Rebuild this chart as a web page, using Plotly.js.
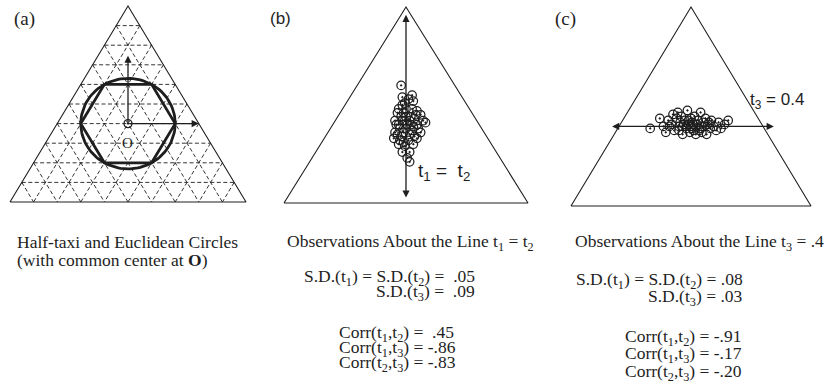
<!DOCTYPE html>
<html>
<head>
<meta charset="utf-8">
<script src="https://cdn.plot.ly/plotly-3.0.1.min.js"></script>
<style>
  html, body { margin: 0; padding: 0; background: #fff; }
  #chart { width: 834px; height: 384px; }
</style>
</head>
<body>
<div id="chart"></div>
<script>
// ---- data (barycentric coordinates t1, t2, t3; t3 is the top vertex) ----
const gridDivisions = 10;                 // dashed lattice in panel (a)
const centerO = [0.3, 0.3, 0.4];          // common center O (t1, t2, t3)
const circleRadius = 0.2;                 // half-taxi / Euclidean radius (side units)
const arrowLenA = 0.3;                    // axis arrows drawn from O in panel (a)

// panel (b): observations scattered about the line t1 = t2
const obsB_diff = [-0.04, -0.03, 0.05, 0.06, -0.01, -0.06, 0.05, 0.09, -0.07, -0.02,
                   0.12, -0.09, -0.03, 0.03, 0.14, -0.06, 0.01, 0.09, -0.09, -0.02,
                   0.05, 0.12, -0.10, -0.05, 0.02, 0.09, -0.06, -0.01, 0.06, -0.03,
                   0.03, 0.01, 0.03, 0.00, -0.04, 0.04, 0.07, -0.05, 0.00, 0.06,
                   -0.03, 0.03, 0.07, -0.08, 0.00, 0.02, -0.03, 0.10, -0.01, 0.04,
                   -0.07, 0.16, -0.02, 0.08];
const obsB_t3   = [0.60, 0.54, 0.55, 0.52, 0.51, 0.48, 0.48, 0.47, 0.46, 0.46,
                   0.45, 0.42, 0.42, 0.42, 0.42, 0.40, 0.40, 0.40, 0.36, 0.36,
                   0.37, 0.36, 0.33, 0.32, 0.32, 0.33, 0.30, 0.29, 0.30, 0.26,
                   0.26, 0.23, 0.21, 0.44, 0.44, 0.44, 0.43, 0.38, 0.38, 0.39,
                   0.34, 0.35, 0.34, 0.40, 0.48, 0.53, 0.50, 0.38, 0.42, 0.40,
                   0.35, 0.41, 0.31, 0.45];
const lineB_t3 = [0.96, 0.02];            // extent of the t1 = t2 arrow

// panel (c): observations scattered about the line t3 = 0.4
const obsC_diff = [-0.34, -0.26, -0.23, -0.15, -0.21, -0.19, -0.18, -0.12, -0.16, -0.14,
                   -0.11, -0.09, -0.10, -0.08, -0.06, -0.07, -0.05, -0.04, -0.03, -0.02,
                   -0.01, 0.00, 0.00, 0.01, 0.02, 0.03, 0.04, 0.05, 0.06, 0.07,
                   0.08, 0.09, 0.10, 0.11, 0.12, 0.13, 0.14, 0.16, 0.17, 0.19,
                   0.21, 0.23, 0.25, 0.28, 0.31, -0.07, 0.07, -0.02, 0.15, 0.01,
                   -0.04, 0.02, -0.10, 0.09];
const obsC_t3   = [0.39, 0.44, 0.40, 0.46, 0.37, 0.43, 0.40, 0.44, 0.41, 0.38,
                   0.47, 0.42, 0.38, 0.45, 0.41, 0.36, 0.43, 0.39, 0.48, 0.41,
                   0.37, 0.44, 0.40, 0.42, 0.38, 0.45, 0.36, 0.41, 0.43, 0.39,
                   0.47, 0.37, 0.42, 0.40, 0.44, 0.36, 0.41, 0.39, 0.43, 0.40,
                   0.38, 0.42, 0.39, 0.41, 0.43, 0.40, 0.38, 0.43, 0.42, 0.39,
                   0.40, 0.41, 0.40, 0.40];
const lineC_t3 = 0.4;
const lineC_diff = [-0.67, 0.69];         // extent of the t3 = 0.4 arrow

// captions and summary statistics
const panelLabels = ['(a)', '(b)', '(c)'];
const captionA = ['Half-taxi and Euclidean Circles', '(with common center at <b>O</b>)'];
const titleB = 'Observations About the Line t<sub>1</sub> = t<sub>2</sub>';
const sdB = ['S.D.(t<sub>1</sub>) = S.D.(t<sub>2</sub>) =\u00a0 .05', 'S.D.(t<sub>3</sub>) =\u00a0 .09'];
const corrB = ['Corr(t<sub>1</sub>,t<sub>2</sub>) =\u00a0 .45', 'Corr(t<sub>1</sub>,t<sub>3</sub>) = -.86', 'Corr(t<sub>2</sub>,t<sub>3</sub>) = -.83'];
const titleC = 'Observations About the Line t<sub>3</sub> = .4';
const sdC = ['S.D.(t<sub>1</sub>) = S.D.(t<sub>2</sub>) = .08', 'S.D.(t<sub>3</sub>) = .03'];
const corrC = ['Corr(t<sub>1</sub>,t<sub>2</sub>) = -.91', 'Corr(t<sub>1</sub>,t<sub>3</sub>) = -.17', 'Corr(t<sub>2</sub>,t<sub>3</sub>) = -.20'];

// ---- geometry helpers ----
const W = 834, H = 384;
const INK = '#1e1e1e';
const SERIF = 'Liberation Serif, Times New Roman, serif';
const SANS = 'Liberation Sans, Arial, sans-serif';

// planar coordinates: x = t2 - t1 (base spans -1..1), y = t3 (0..1)
const toX = (t1, t2, t3) => t2 - t1;
const toY = (t1, t2, t3) => t3;

// pixel frame of each triangle: left/right base corners and base/apex rows
const frames = [
  { xl: 10,  xr: 246, yb: 202, yt: 6 },
  { xl: 284, xr: 528, yb: 203, yt: 7 },
  { xl: 571, xr: 811, yb: 206, yt: 7 }
];
const PAD = 0.06;

function axesFor(f) {
  const ppx = (f.xr - f.xl) / 2, ppy = f.yb - f.yt;
  const x0 = (f.xl - PAD * ppx) / W, x1 = (f.xr + PAD * ppx) / W;
  const y0 = 1 - (f.yb + PAD * ppy * 0.5) / H, y1 = 1 - (f.yt - PAD * ppy * 0.5) / H;
  const base = { visible: false, showgrid: false, zeroline: false, fixedrange: true };
  return {
    x: Object.assign({}, base, { domain: [x0, x1], range: [-1 - PAD, 1 + PAD] }),
    y: Object.assign({}, base, { domain: [y0, y1], range: [-PAD * 0.5, 1 + PAD * 0.5] })
  };
}

const traces = [];
const suffix = ['', '2', '3'];

// triangle outlines
suffix.forEach((s, i) => {
  traces.push({
    type: 'scatter', mode: 'lines', xaxis: 'x' + s, yaxis: 'y' + s,
    x: [toX(1,0,0), toX(0,1,0), toX(0,0,1), toX(1,0,0)],
    y: [toY(1,0,0), toY(0,1,0), toY(0,0,1), toY(1,0,0)],
    line: { color: INK, width: 1.1 }, hoverinfo: 'skip'
  });
});

// dashed lattice for panel (a): lines of constant t1, t2 and t3
(function () {
  const gx = [], gy = [];
  for (let k = 1; k < gridDivisions; k++) {
    const c = k / gridDivisions;
    const segs = [
      [[c, 0, 1 - c], [c, 1 - c, 0]],   // t1 = c
      [[0, c, 1 - c], [1 - c, c, 0]],   // t2 = c
      [[1 - c, 0, c], [0, 1 - c, c]]    // t3 = c
    ];
    segs.forEach(([p, q]) => {
      gx.push(toX(...p), toX(...q), null);
      gy.push(toY(...p), toY(...q), null);
    });
  }
  traces.push({
    type: 'scatter', mode: 'lines', xaxis: 'x', yaxis: 'y', x: gx, y: gy,
    line: { color: INK, width: 0.9, dash: '4px,2.5px' }, hoverinfo: 'skip'
  });
})();

// half-taxi circle: points whose half-taxi distance from O equals the radius
(function () {
  const order = [[1, 0], [2, 0], [2, 1], [0, 1], [0, 2], [1, 2]];
  const hx = [], hy = [];
  order.concat([order[0]]).forEach(([i, j]) => {
    const p = centerO.slice();
    p[i] += circleRadius; p[j] -= circleRadius;
    hx.push(toX(...p)); hy.push(toY(...p));
  });
  traces.push({
    type: 'scatter', mode: 'lines', xaxis: 'x', yaxis: 'y', x: hx, y: hy,
    line: { color: INK, width: 2.8 }, hoverinfo: 'skip'
  });
  // Euclidean circle of the same radius (side units -> planar units)
  const cx = [], cy = [];
  const ox = toX(...centerO), oy = toY(...centerO);
  for (let a = 0; a <= 360; a += 3) {
    const r = a * Math.PI / 180;
    cx.push(ox + 2 * circleRadius * Math.cos(r));
    cy.push(oy + (circleRadius / (Math.sqrt(3) / 2)) * Math.sin(r));
  }
  traces.push({
    type: 'scatter', mode: 'lines', xaxis: 'x', yaxis: 'y', x: cx, y: cy,
    line: { color: INK, width: 2.8 }, hoverinfo: 'skip'
  });
  traces.push({
    type: 'scatter', mode: 'markers', xaxis: 'x', yaxis: 'y', x: [ox], y: [oy],
    marker: { symbol: 'circle-open-dot', size: 8, color: INK, line: { width: 1.3, color: INK } },
    hoverinfo: 'skip'
  });
})();

// observations
const obsMarker = { symbol: 'circle-open-dot', size: 8.5, color: INK, line: { width: 1.25, color: INK } };
traces.push({
  type: 'scatter', mode: 'markers', xaxis: 'x2', yaxis: 'y2',
  x: obsB_diff, y: obsB_t3, marker: obsMarker, hoverinfo: 'skip'
});
traces.push({
  type: 'scatter', mode: 'markers', xaxis: 'x3', yaxis: 'y3',
  x: obsC_diff, y: obsC_t3, marker: obsMarker, hoverinfo: 'skip'
});

// ---- annotations ----
const P = (px) => px / W;
const Q = (py) => 1 - py / H;
const ann = [];
function text(t, x, y, anchor, font) {
  ann.push({ xref: 'paper', yref: 'paper', x: P(x), y: Q(y), text: t, showarrow: false,
             xanchor: anchor, yanchor: 'middle', font: font });
}
function arrow(s, x, y, ax, ay, both) {
  ann.push({ xref: 'x' + s, yref: 'y' + s, axref: 'x' + s, ayref: 'y' + s,
             x: x, y: y, ax: ax, ay: ay, text: '', showarrow: true,
             arrowhead: 2, arrowsize: 1.1, arrowwidth: 1.3, arrowcolor: INK,
             arrowside: both ? 'end+start' : 'end', standoff: 0, startstandoff: 0 });
}

const serifCap = { family: SERIF, size: 17.5, color: INK };
const serifStat = { family: SERIF, size: 17.5, color: INK };

// panel labels
text(panelLabels[0], 12, 19, 'left', { family: SERIF, size: 19, color: INK });
text(panelLabels[1], 268, 19, 'left', { family: SANS, size: 17, color: INK });
text(panelLabels[2], 553, 19, 'left', { family: SERIF, size: 19, color: INK });

// panel (a) axes from O and its label
const oX = toX(...centerO), oY = toY(...centerO);
arrow('', oX, oY + arrowLenA / (Math.sqrt(3) / 2), oX, oY, false);
arrow('', oX + 2 * arrowLenA, oY, oX, oY, false);
text('O', 128, 143, 'center', { family: SERIF, size: 15, color: INK });

// panel (b) line t1 = t2
arrow('2', 0, lineB_t3[0], 0, lineB_t3[1], true);
text('t<sub>1</sub> =\u00a0 t<sub>2</sub>', 416, 172, 'left', { family: SANS, size: 19, color: INK });

// panel (c) line t3 = 0.4
arrow('3', lineC_diff[1], lineC_t3, lineC_diff[0], lineC_t3, true);
text('t<sub>3</sub> = 0.4', 748, 101, 'left', { family: SANS, size: 17, color: INK });

// captions
text(captionA[0], 15, 242, 'left', serifCap);
text(captionA[1], 15, 260, 'left', serifCap);

text(titleB, 285, 242, 'left', serifCap);
text(sdB[0], 477, 277, 'right', serifStat);
text(sdB[1], 477, 292, 'right', serifStat);
corrB.forEach((t, i) => text(t, 337, 333 + 15 * i, 'left', serifStat));

text(titleC, 573, 242, 'left', serifCap);
text(sdC[0], 745, 280, 'right', serifStat);
text(sdC[1], 745, 297, 'right', serifStat);
corrC.forEach((t, i) => text(t, 623, 337 + 17.5 * i, 'left', serifStat));

const A = frames.map(axesFor);
const layout = {
  width: W, height: H,
  margin: { l: 0, r: 0, t: 0, b: 0 },
  paper_bgcolor: '#fff', plot_bgcolor: 'rgba(0,0,0,0)',
  showlegend: false,
  xaxis: A[0].x, yaxis: A[0].y,
  xaxis2: A[1].x, yaxis2: A[1].y,
  xaxis3: A[2].x, yaxis3: A[2].y,
  annotations: ann
};

Plotly.newPlot('chart', traces, layout, { staticPlot: true, displayModeBar: false });
</script>
</body>
</html>
